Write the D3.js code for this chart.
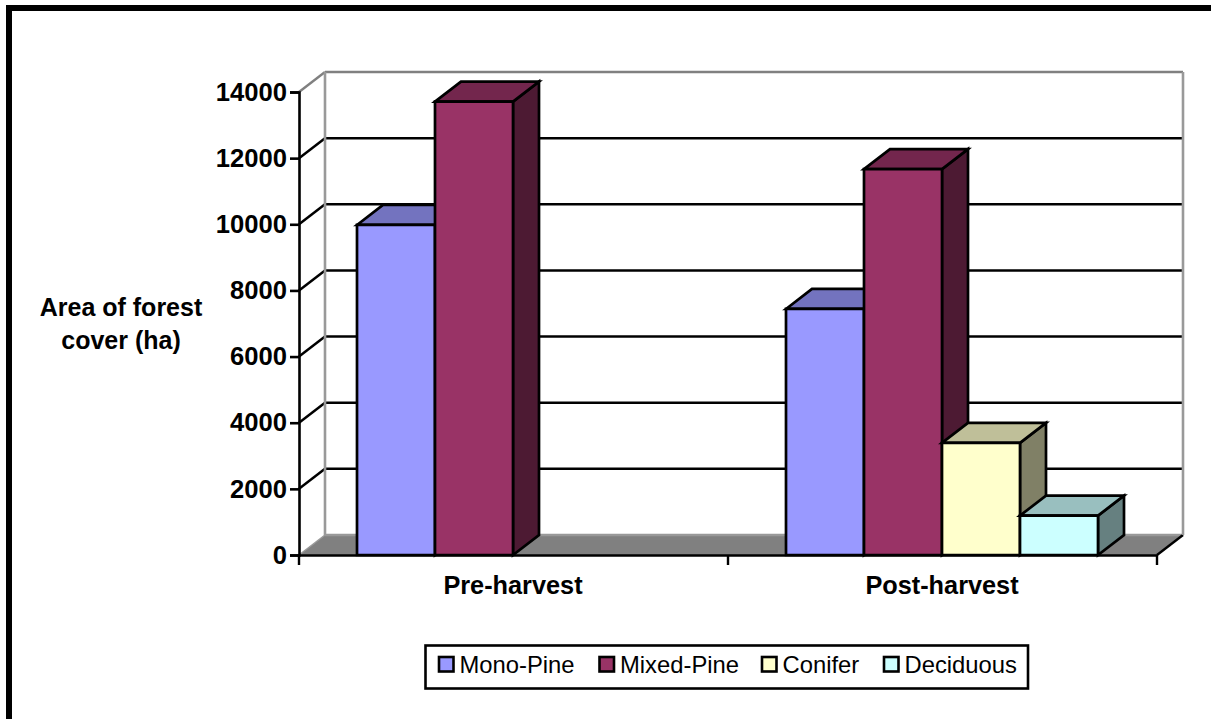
<!DOCTYPE html>
<html><head><meta charset="utf-8">
<script src="https://cdn.jsdelivr.net/npm/d3@7/dist/d3.min.js"></script>
<style>html,body{margin:0;padding:0;background:#fff}svg{display:block}text{font-family:"Liberation Sans",Arial,sans-serif}</style>
</head><body><svg id="c" width="1211" height="719"></svg>
<script>
const categories = ["Pre-harvest", "Post-harvest"];
const seriesNames = ["Mono-Pine", "Mixed-Pine", "Conifer", "Deciduous"];
const monoPine = [9980, 7440];
const mixedPine = [13710, 11670];
const conifer = [0, 3390];
const deciduous = [0, 1190];
const seriesValues = [monoPine, mixedPine, conifer, deciduous];
const tickValues = [0, 2000, 4000, 6000, 8000, 10000, 12000, 14000];
const frontColors = ["#9999FF", "#993366", "#FFFFCC", "#CCFFFF"];
const topColors = ["#7373BF", "#73264D", "#BFBF99", "#99BFBF"];
const sideColors = ["#4D4D80", "#4D1A33", "#808066", "#668080"];

const svg = d3.select("#c");
const dx = 26, dy = -20;
const y = d3.scaleLinear().domain([0, 14000]).range([555, 92]);
const x0 = d3.scaleBand().domain(categories).range([299, 1157]);
const x1 = d3.scaleBand().domain(seriesNames).range([58, 370]);
const seg = (g, a, b, c, w) => g.append("line").attr("x1", a[0]).attr("y1", a[1]).attr("x2", b[0]).attr("y2", b[1]).attr("stroke", c).attr("stroke-width", w);
const poly = (g, pts, fill, stroke) => g.append("polygon").attr("points", pts.map(p => p.join(",")).join(" ")).attr("fill", fill).attr("stroke", stroke || "none").attr("stroke-width", 2.7).attr("stroke-linejoin", "miter");

// frame
svg.append("path").attr("d", "M9,719V8H1211").attr("fill", "none").attr("stroke", "#000").attr("stroke-width", 6);

// walls and floor
const L = x0.range()[0], R = x0.range()[1], y0 = y(0);
poly(svg, [[L, y0], [L + dx, y0 + dy], [R + dx, y0 + dy], [R, y0]], "#808080");
seg(svg, [L, y0], [L + dx, y0 + dy], "#999", 1.5);
seg(svg, [L + dx, y0 + dy], [R + dx, y0 + dy], "#999", 2.4);
seg(svg, [R, y0], [R + dx, y0 + dy], "#000", 2.4);
tickValues.slice(1, -1).forEach(t => {
  seg(svg, [L, y(t)], [L + dx, y(t) + dy], "#000", 2.5);
  seg(svg, [L + dx, y(t) + dy], [R + dx, y(t) + dy], "#000", 2.5);
});
const wallTop = y(14000);
seg(svg, [L, wallTop], [L + dx, wallTop + dy], "#808080", 2.4);
seg(svg, [L + dx, wallTop + dy], [R + dx, wallTop + dy], "#808080", 2.6);
seg(svg, [L + dx, wallTop + dy], [L + dx, y0 + dy], "#999", 2.6);
seg(svg, [R + dx, wallTop + dy], [R + dx, y0 + dy], "#999", 2.6);

// bars
categories.forEach((cat, ci) => {
  seriesNames.forEach((s, si) => {
    const v = seriesValues[si][ci];
    if (!v) return;
    const g = svg.append("g");
    const a = x0(cat) + x1(s), b = a + x1.bandwidth(), t = y(v);
    poly(g, [[b, t], [b + dx, t + dy], [b + dx, y0 + dy], [b, y0]], sideColors[si], "#000");
    poly(g, [[a, t], [a + dx, t + dy], [b + dx, t + dy], [b, t]], topColors[si], "#000");
    poly(g, [[a, t], [b, t], [b, y0], [a, y0]], frontColors[si], "#000");
  });
});

// axes
const yAxis = svg.append("g").attr("transform", `translate(${L},0)`)
  .call(d3.axisLeft(y).tickValues(tickValues).tickSize(9).tickPadding(3).tickFormat(d3.format("d")));
yAxis.selectAll("path,line").attr("stroke", "#000").attr("stroke-width", 2.6);
yAxis.selectAll("text").attr("font-family", '"Liberation Sans"').attr("font-size", 25.6).attr("font-weight", "bold").attr("fill", "#000");

const xAxis = svg.append("g").attr("transform", `translate(0,${y0})`)
  .call(d3.axisBottom(x0).tickValues([]).tickSize(0));
xAxis.select("path").attr("stroke", "#000").attr("stroke-width", 2.6);
[L, (L + R) / 2, R].forEach(px => seg(svg, [px, y0], [px, y0 + 10], "#000", 2.4));
categories.forEach(c => svg.append("text").attr("x", x0(c) + x0.bandwidth() / 2 - 0.5).attr("y", 594)
  .attr("text-anchor", "middle").attr("font-size", 25.3).attr("font-weight", "bold").text(c));

// axis title
const yTitle = ["Area of forest", "cover (ha)"];
yTitle.forEach((t, i) => svg.append("text").attr("x", 121).attr("y", 316 + i * 33)
  .attr("text-anchor", "middle").attr("font-size", 25).attr("font-weight", "bold").text(t));

// legend
const lg = svg.append("g");
lg.append("rect").attr("x", 425.5).attr("y", 645.5).attr("width", 602.5).attr("height", 43).attr("fill", "#fff").attr("stroke", "#000").attr("stroke-width", 2.6);
const legendSwatchX = [439, 599.5, 762, 884];
seriesNames.forEach((s, i) => {
  lg.append("rect").attr("x", legendSwatchX[i]).attr("y", 657).attr("width", 14.5).attr("height", 14.5).attr("fill", frontColors[i]).attr("stroke", "#000").attr("stroke-width", 2.6);
  lg.append("text").attr("x", legendSwatchX[i] + 20.5).attr("y", 673).attr("font-size", 23.8).text(s);
});
</script></body></html>
